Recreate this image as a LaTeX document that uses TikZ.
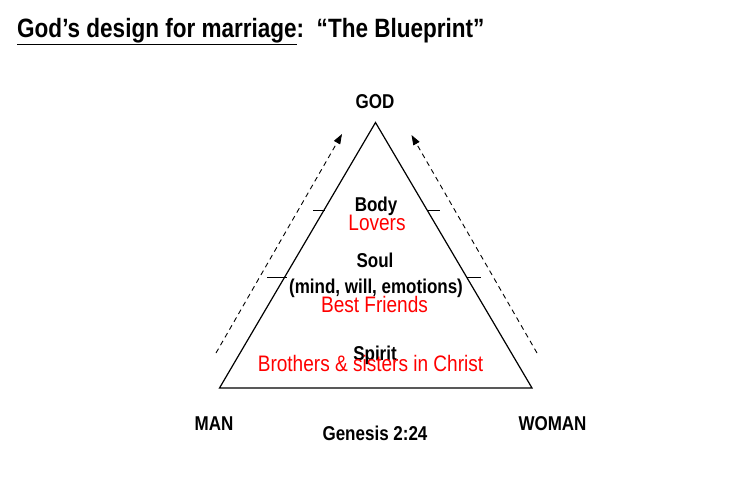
\documentclass[tikz,border=0pt]{standalone}
\usepackage{fontspec}
\setmainfont{Liberation Sans}[FakeStretch=0.85]
\usetikzlibrary{arrows.meta}
\begin{document}
\begin{tikzpicture}[x=1pt,y=-1pt,
  lbl/.style={font=\fontsize{20}{22}\selectfont\bfseries, inner sep=0pt, anchor=base},
  redlbl/.style={font=\fontsize{22.4}{24}\selectfont, text=red, inner sep=0pt, anchor=base},
  edge/.style={line width=1.2pt},
  tick/.style={line width=1pt},
  dasharrow/.style={line width=0.9pt, dash pattern=on 5pt off 4pt, -{Triangle[length=10pt,width=7pt]}}]
\useasboundingbox (0,0) rectangle (754,480);
% title
\node[font=\fontsize{26.5}{28}\selectfont\bfseries, inner sep=0pt, anchor=base west] (title) at (17,37)
  {\underline{God’s design for marriage}:\ \ “The Blueprint”};
% triangle
\coordinate (apex) at (375.5,122.5);
\coordinate (bl) at (219.5,388);
\coordinate (br) at (532,388);
\draw[edge, line join=miter] (apex) -- (bl) -- (br) -- cycle;
% ticks
\coordinate (t1a) at (313,210); \coordinate (t1b) at (324.5,210);
\coordinate (t2a) at (428,210); \coordinate (t2b) at (440,210);
\coordinate (t3a) at (267,277); \coordinate (t3b) at (287,277);
\coordinate (t4a) at (467,277); \coordinate (t4b) at (481,277);
\draw[tick] (t1a) -- (t1b);
\draw[tick] (t2a) -- (t2b);
\draw[tick] (t3a) -- (t3b);
\draw[tick] (t4a) -- (t4b);
% dashed arrows
\coordinate (la) at (216,353); \coordinate (lb) at (342,134);
\coordinate (ra) at (537,353); \coordinate (rb) at (411.5,135);
\draw[dasharrow] (la) -- (lb);
\draw[dasharrow] (ra) -- (rb);
% labels
\node[lbl] (god) at (375,108) {GOD};
\node[lbl] (body) at (376,211) {Body};
\node[redlbl] (lovers) at (377,230) {Lovers};
\node[lbl] (soul) at (375,267) {Soul};
\node[lbl] (mind) at (376,293) {(mind, will, emotions)};
\node[redlbl] (friends) at (374.5,312) {Best Friends};
\node[lbl] (spirit) at (375,360) {Spirit};
\node[redlbl] (brothers) at (370.5,371) {Brothers \& sisters in Christ};
\node[lbl] (man) at (214,430) {MAN};
\node[lbl] (woman) at (552.5,430) {WOMAN};
\node[lbl] (gen) at (375,440) {Genesis 2:24};
\end{tikzpicture}
\end{document}
